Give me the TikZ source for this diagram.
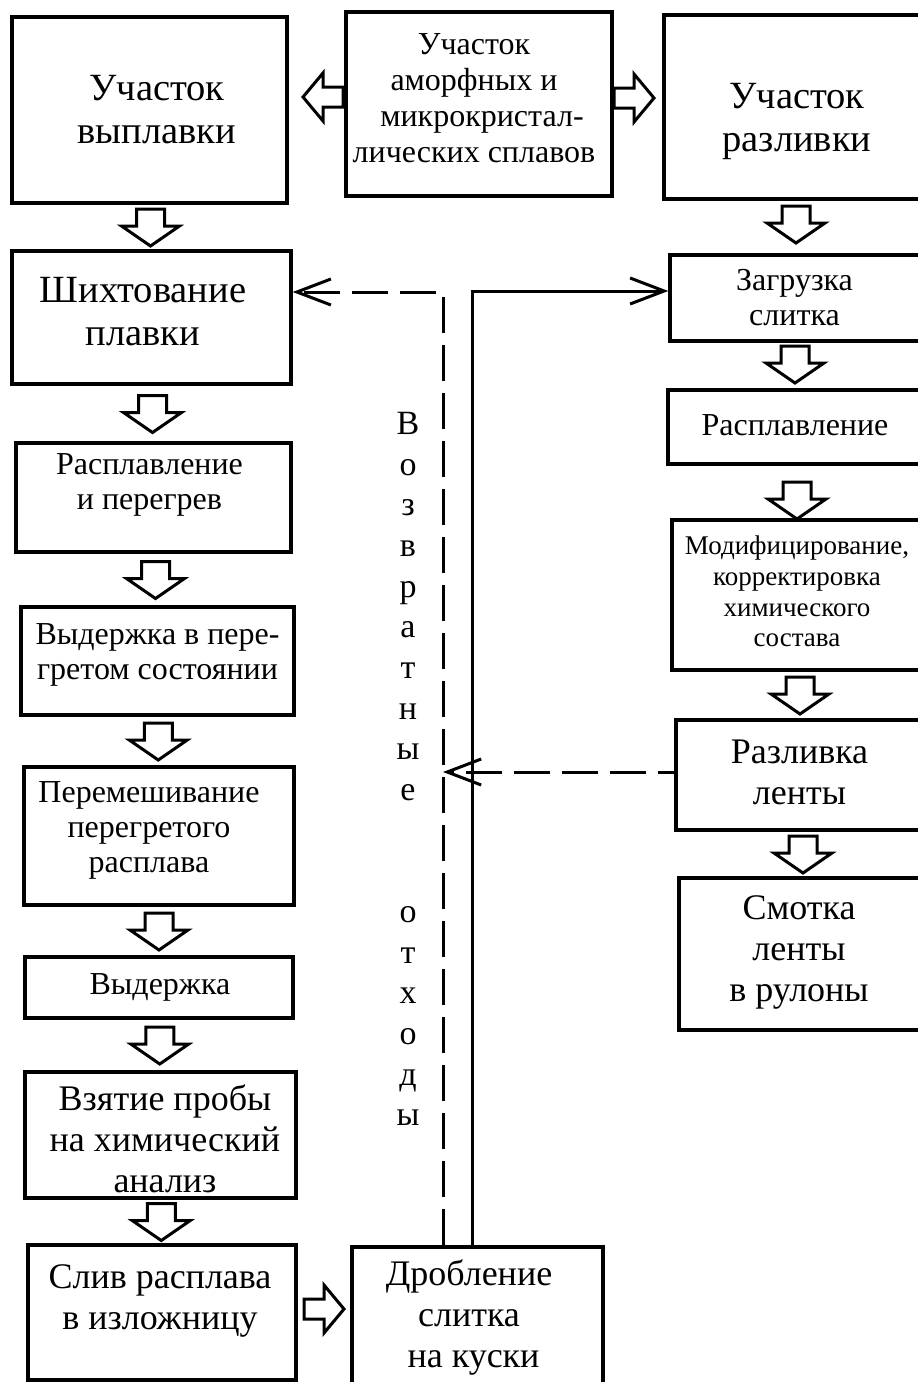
\documentclass[tikz,border=0pt]{standalone}
\usepackage{fontspec}
\setmainfont{Liberation Serif}
\usetikzlibrary{arrows.meta,calc}
\tikzset{
  box/.style={draw, line width=3.4pt, inner sep=0pt},
  txt/.style={align=center, inner sep=0pt},
  fX/.style={font=\fontsize{38.5}{43}\selectfont},
  fL/.style={font=\fontsize{36}{41}\selectfont},
  fM/.style={font=\fontsize{32}{35}\selectfont},
  fC/.style={font=\fontsize{32}{36}\selectfont},
  fS/.style={font=\fontsize{27}{30.7}\selectfont},
  harrow/.style={draw, line width=3pt, line join=miter, fill=white},
  conn/.style={line width=3pt},
  dconn/.style={line width=3pt, dash pattern=on 36pt off 12pt},
  tipV/.style={-{Straight Barb[length=34pt,width=26pt,line width=3pt]}},
  pics/darr/.style={code={\path[harrow] (-14,-18) -- (14,-18) -- (14,-1) -- (29,-1) -- (0,19) -- (-29,-1) -- (-14,-1) -- cycle;}},
  pics/rarr/.style={code={\path[harrow] (-20,-10) -- (0,-10) -- (0,-24) -- (20,0) -- (0,24) -- (0,10) -- (-20,10) -- cycle;}},
  pics/larr/.style={code={\path[harrow] (20,-10) -- (0,-10) -- (0,-24) -- (-20,0) -- (0,24) -- (0,10) -- (20,10) -- cycle;}},
}
\begin{document}
\begin{tikzpicture}[x=1pt,y=-1pt]
\useasboundingbox (0,0) rectangle (918,1382);
\fill[white] (0,0) rectangle (918,1382);
\clip (0,0) rectangle (918,1382);

% left column boxes
\node[box,minimum width=275pt,minimum height=186pt] (b1) at (149.5,110) {};
\node[box,minimum width=279pt,minimum height=133pt] (b2) at (151.5,317.5) {};
\node[box,minimum width=275pt,minimum height=109pt] (b3) at (153.5,497.5) {};
\node[box,minimum width=273pt,minimum height=108pt] (b4) at (157.5,661) {};
\node[box,minimum width=270pt,minimum height=138pt] (b5) at (159,836) {};
\node[box,minimum width=268pt,minimum height=61pt] (b6) at (159,987.5) {};
\node[box,minimum width=271pt,minimum height=126pt] (b7) at (160.5,1135) {};
\node[box,minimum width=268pt,minimum height=135pt] (b8) at (162,1312.5) {};
% centre column boxes
\node[box,minimum width=266pt,minimum height=184pt] (c1) at (479,104) {};
\node[box,minimum width=251pt,minimum height=146pt] (c2) at (477.5,1320) {};
% right column boxes
\node[box,minimum width=266pt,minimum height=184pt] (r1) at (797,107) {};
\node[box,minimum width=260pt,minimum height=86pt] (r2) at (800,298) {};
\node[box,minimum width=262pt,minimum height=74pt] (r3) at (799,427) {};
\node[box,minimum width=258pt,minimum height=150pt] (r4) at (801,595) {};
\node[box,minimum width=254pt,minimum height=110pt] (r5) at (803,775) {};
\node[box,minimum width=251pt,minimum height=152pt] (r6) at (804.5,954) {};

% box texts
\node[txt,fX] (b1t) at (157,109.5) {Участок\\выплавки};
\node[txt,fX] (b2t) at (143,311.5) {Шихтование\\плавки};
\node[txt,fM] (b3t) at (149.5,484.5) {Расплавление\\и перегрев};
\node[txt,fM] (b4t) at (157.5,654.5) {Выдержка в пере-\\гретом состоянии};
\node[txt,fM] (b5t) at (149,830.5) {Перемешивание\\перегретого\\расплава};
\node[txt,fM] (b6t) at (160,987) {Выдержка};
\node[txt,fL] (b7t) at (165,1139) {Взятие пробы\\на химический\\анализ};
\node[txt,fL] (b8t) at (160,1301) {Слив расплава\\в изложницу};
\node[txt,fC] (c1t) at (474,98) {Участок\\аморфных и\\\ \ микрокристал-\\лических сплавов};
\node[txt,fL] (c2t) at (469,1317.5) {Дробление\\слитка\\\ на куски};
\node[txt,fX] (r1t) at (797,121.5) {Участок\\разливки};
\node[txt,fM] (r2t) at (794.5,297.5) {Загрузка\\слитка};
\node[txt,fM] (r3t) at (795,425) {Расплавление};
\node[txt,fS] (r4t) at (797,591.5) {Модифицирование,\\корректировка\\химического\\состава};
\node[txt,fL] (r5t) at (799.5,772.5) {Разливка\\ленты};
\node[txt,fL] (r6t) at (799,952.5) {Смотка\\ленты\\в рулоны};

% hollow block arrows
\pic at ($(b1.south)!.5!(b2.north)$) {darr};
\pic at ($(b2.south)!.5!(b3.north)$) {darr};
\pic at ($(b3.south)!.5!(b4.north)$) {darr};
\pic at ($(b4.south)!.5!(b5.north)$) {darr};
\pic at ($(b5.south)!.5!(b6.north)$) {darr};
\pic at ($(b6.south)!.5!(b7.north)$) {darr};
\pic at ($(b7.south)!.5!(b8.north)$) {darr};
\pic at (796,224) {darr};
\pic at (795,364) {darr};
\pic at (797,500) {darr};
\pic at (800,695) {darr};
\pic at (803,854) {darr};
\pic at (323,97) {larr};
\pic at (634,98) {rarr};
\pic at (324,1309) {rarr};

% return lines
\coordinate (ret) at (443,292);
\coordinate (fwd) at (472,291);
\draw[dconn,tipV] (c2.north -| ret) -- (ret) -- (ret -| b2.east);
\draw[conn,tipV] (c2.north -| fwd) -- (fwd) -- (fwd -| r2.west);
\draw[dconn,tipV,dash phase=20pt] (r5.west |- 0,772) -- (ret |- 0,772);

% vertical label
\node[txt,font=\fontsize{34}{40.7}\selectfont] (vt) at (408,769)
  {В\\о\\з\\в\\р\\а\\т\\н\\ы\\е\\[81pt]о\\т\\х\\о\\д\\ы};
\end{tikzpicture}
\end{document}
